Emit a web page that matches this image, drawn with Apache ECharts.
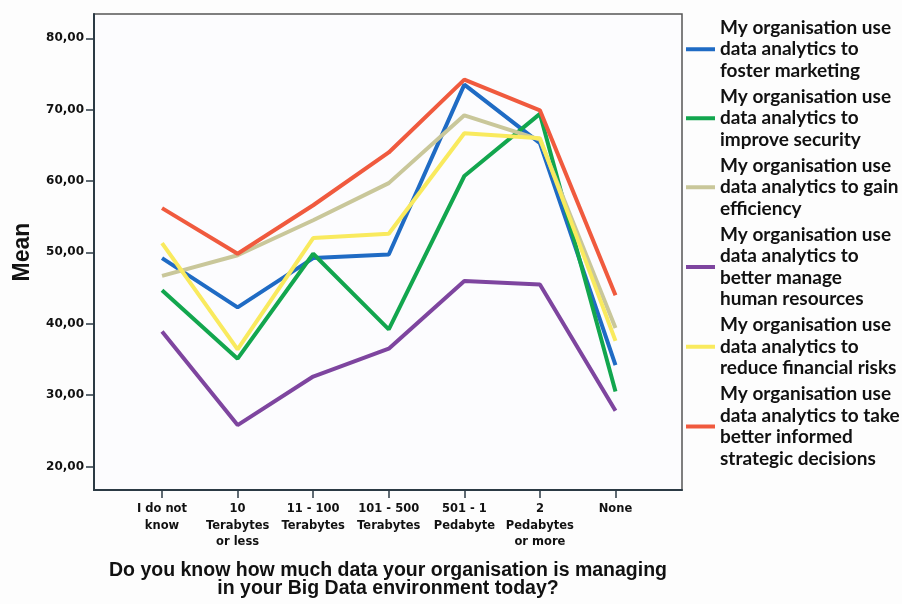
<!DOCTYPE html>
<html>
<head>
    <meta charset="utf-8">
    <title>Mean by amount of data managed</title>
    <script src="https://cdn.jsdelivr.net/npm/echarts@6/dist/echarts.min.js"></script>
    <style>
        body { margin: 0; background: #fdfdfd; }
    </style>
</head>
<body>
    <div id="main" style="width: 902px; height: 604px;"></div>

    <script>
        // categories on the x axis
        var categories = [
            'I do not\nknow',
            '10\nTerabytes\nor less',
            '11 - 100\nTerabytes',
            '101 - 500\nTerabytes',
            '501 - 1\nPedabyte',
            '2\nPedabytes\nor more',
            'None'
        ];

        // mean values
        var marketing = [49.2, 42.3, 49.2, 49.7, 73.5, 65.3, 34.2];
        var security = [44.7, 35.1, 49.8, 39.2, 60.7, 69.4, 30.5];
        var efficiency = [46.7, 49.6, 54.5, 59.7, 69.2, 65.8, 39.4];
        var humanRes = [38.9, 25.8, 32.6, 36.5, 46.0, 45.5, 27.8];
        var financial = [51.3, 36.4, 52.0, 52.6, 66.7, 66.0, 37.6];
        var strategic = [56.2, 49.8, 56.6, 64.0, 74.2, 69.9, 44.0];

        var yTicks = [20, 30, 40, 50, 60, 70, 80];
        var xTicks = [0, 1, 2, 3, 4, 5, 6];

        var seriesNames = [
            'My organisation use\ndata analytics to\nfoster marketing',
            'My organisation use\ndata analytics to\nimprove security',
            'My organisation use\ndata analytics to gain\nefficiency',
            'My organisation use\ndata analytics to\nbetter manage\nhuman resources',
            'My organisation use\ndata analytics to\nreduce financial risks',
            'My organisation use\ndata analytics to take\nbetter informed\nstrategic decisions'
        ];
        var seriesValues = [marketing, security, efficiency, humanRes, financial, strategic];
        var colors = ['#1f6bc4', '#12a64e', '#c9c79a', '#7e459f', '#f9ea5e', '#f05a3e'];

        var chart = echarts.init(document.getElementById('main'));

        var series = [];
        for (var i = 0; i < seriesNames.length; i++) {
            series.push({
                name: seriesNames[i],
                type: 'line',
                data: seriesValues[i].map(function (v, k) { return [k, v]; }),
                showSymbol: false,
                symbol: 'none',
                lineStyle: { width: 4, color: colors[i] },
                itemStyle: { color: colors[i] },
                animation: false
            });
        }

        var option = {
            animation: false,
            grid: {
                left: 94, top: 14, width: 588, height: 479,
                show: true,
                backgroundColor: '#fcfcfe',
                borderColor: '#555',
                borderWidth: 1.5
            },
            legend: {
                orient: 'vertical',
                left: 686,
                top: 17,
                padding: 0,
                itemGap: 4.5,
                itemWidth: 29,
                itemHeight: 4,
                icon: 'rect',
                textStyle: {
                    fontFamily: 'Lato',
                    fontWeight: 'bold',
                    fontSize: 19,
                    lineHeight: 21.5,
                    color: '#111'
                }
            },
            xAxis: {
                type: 'value',
                min: -0.9,
                max: 6.88,
                name: 'Do you know how much data your organisation is managing\nin your Big Data environment today?',
                nameLocation: 'middle',
                nameGap: 72,
                nameTextStyle: {
                    fontFamily: 'Liberation Sans',
                    fontWeight: 'bold',
                    fontSize: 19.5,
                    lineHeight: 18,
                    color: '#111'
                },
                splitLine: { show: false },
                axisLine: { onZero: false, lineStyle: { color: '#2b3a44', width: 2 } },
                axisTick: { length: 8, lineStyle: { color: '#2b3a44', width: 1.5 }, customValues: xTicks },
                axisLabel: {
                    customValues: xTicks,
                    margin: 11,
                    fontFamily: 'DejaVu Sans',
                    fontWeight: 'bold',
                    fontSize: 11.5,
                    lineHeight: 16.5,
                    color: '#111',
                    formatter: function (v) { return categories[v]; }
                }
            },
            yAxis: {
                type: 'value',
                min: 16.7,
                max: 83.4,
                name: 'Mean',
                nameLocation: 'middle',
                nameRotate: 90,
                nameGap: 60,
                nameTextStyle: {
                    fontFamily: 'Liberation Sans',
                    fontWeight: 'bold',
                    fontSize: 23,
                    color: '#111'
                },
                splitLine: { show: false },
                axisLine: { onZero: false, lineStyle: { color: '#2b3a44', width: 2 } },
                axisTick: { length: 8, lineStyle: { color: '#2b3a44', width: 1.5 }, customValues: yTicks },
                axisLabel: {
                    customValues: yTicks,
                    margin: 10,
                    fontFamily: 'DejaVu Sans',
                    fontWeight: 'bold',
                    fontSize: 12,
                    color: '#111',
                    formatter: function (v) { return v.toFixed(2).replace('.', ','); }
                }
            },
            series: series
        };

        chart.setOption(option);
    </script>
</body>
</html>
